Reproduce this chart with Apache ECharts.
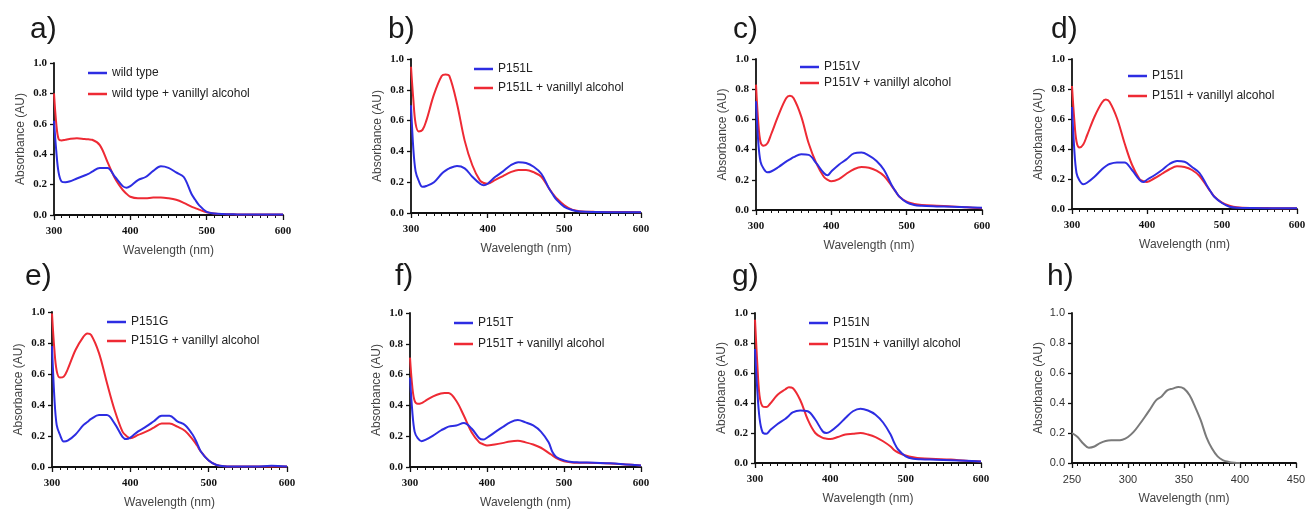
<!DOCTYPE html>
<html lang="en">
<head>
  <meta charset="UTF-8">
  <title>Absorbance spectra</title>
  <script src="https://cdn.jsdelivr.net/npm/echarts@6/dist/echarts.min.js"></script>
</head>
<body style="margin:0;background:#fff;">
<div id="chart" style="width:1309px;height:510px;"></div>

<script>
  // wavelengths (nm) sampled for panels a-g
  let wl = [300, 303, 306, 310, 315, 320, 330, 340, 345, 350, 360, 370, 380, 390, 395, 400, 410, 420, 430, 440, 450, 460, 470, 480, 485, 490, 500, 510, 520, 540, 560, 580, 600];

  // panel names / legend labels
  let panelLetters = ['a)', 'b)', 'c)', 'd)', 'e)', 'f)', 'g)', 'h)'];
  let enzymeNames = ['wild type', 'P151L', 'P151V', 'P151I', 'P151G', 'P151T', 'P151N'];
  let withAlcohol = ' + vanillyl alcohol';

  // absorbance without substrate (blue)
  let wtBlue = [0.62, 0.42, 0.28, 0.22, 0.215, 0.22, 0.24, 0.26, 0.27, 0.285, 0.31, 0.31, 0.25, 0.19, 0.18, 0.19, 0.23, 0.25, 0.29, 0.32, 0.31, 0.28, 0.25, 0.14, 0.10, 0.065, 0.02, 0.01, 0.006, 0.004, 0.003, 0.003, 0.003];
  let lBlue = [0.70, 0.42, 0.27, 0.21, 0.17, 0.175, 0.20, 0.255, 0.275, 0.29, 0.305, 0.29, 0.235, 0.19, 0.18, 0.19, 0.235, 0.27, 0.31, 0.33, 0.325, 0.30, 0.255, 0.16, 0.12, 0.085, 0.04, 0.02, 0.01, 0.006, 0.005, 0.005, 0.005];
  let vBlue = [0.72, 0.45, 0.32, 0.275, 0.25, 0.255, 0.285, 0.32, 0.335, 0.35, 0.37, 0.365, 0.31, 0.245, 0.23, 0.255, 0.30, 0.335, 0.375, 0.38, 0.36, 0.325, 0.265, 0.165, 0.125, 0.09, 0.05, 0.033, 0.028, 0.024, 0.021, 0.018, 0.015];
  let iBlue = [0.68, 0.40, 0.24, 0.19, 0.165, 0.175, 0.215, 0.265, 0.285, 0.30, 0.31, 0.31, 0.26, 0.195, 0.18, 0.195, 0.225, 0.26, 0.30, 0.32, 0.315, 0.28, 0.24, 0.155, 0.115, 0.08, 0.04, 0.015, 0.008, 0.006, 0.005, 0.005, 0.005];
  let gBlue = [0.78, 0.45, 0.27, 0.21, 0.165, 0.17, 0.21, 0.27, 0.29, 0.31, 0.335, 0.335, 0.28, 0.195, 0.18, 0.19, 0.23, 0.26, 0.295, 0.33, 0.33, 0.295, 0.27, 0.205, 0.155, 0.10, 0.042, 0.013, 0.005, 0.003, 0.003, 0.008, 0.003];
  let tBlue = [0.58, 0.36, 0.23, 0.187, 0.168, 0.176, 0.204, 0.237, 0.25, 0.262, 0.27, 0.285, 0.25, 0.187, 0.178, 0.19, 0.225, 0.258, 0.29, 0.305, 0.29, 0.27, 0.23, 0.16, 0.097, 0.065, 0.043, 0.032, 0.03, 0.027, 0.024, 0.017, 0.01];
  let nBlue = [0.76, 0.49, 0.30, 0.205, 0.195, 0.218, 0.26, 0.293, 0.315, 0.338, 0.35, 0.345, 0.29, 0.21, 0.20, 0.21, 0.25, 0.30, 0.345, 0.362, 0.35, 0.322, 0.27, 0.19, 0.133, 0.09, 0.044, 0.028, 0.025, 0.022, 0.019, 0.015, 0.01];

  // absorbance with vanillyl alcohol (red)
  let wtRed = [0.80, 0.60, 0.50, 0.49, 0.495, 0.50, 0.505, 0.50, 0.498, 0.495, 0.46, 0.35, 0.24, 0.165, 0.14, 0.12, 0.11, 0.11, 0.115, 0.115, 0.11, 0.10, 0.08, 0.055, 0.045, 0.035, 0.018, 0.01, 0.006, 0.004, 0.003, 0.003, 0.003];
  let lRed = [0.95, 0.74, 0.58, 0.53, 0.54, 0.60, 0.77, 0.89, 0.90, 0.89, 0.71, 0.47, 0.31, 0.21, 0.195, 0.19, 0.215, 0.24, 0.265, 0.28, 0.28, 0.265, 0.235, 0.16, 0.125, 0.095, 0.05, 0.022, 0.012, 0.007, 0.006, 0.006, 0.005];
  let vRed = [0.83, 0.58, 0.45, 0.425, 0.44, 0.50, 0.63, 0.74, 0.757, 0.74, 0.62, 0.44, 0.31, 0.22, 0.20, 0.19, 0.205, 0.24, 0.27, 0.285, 0.28, 0.26, 0.225, 0.16, 0.125, 0.09, 0.055, 0.04, 0.033, 0.028, 0.024, 0.018, 0.012];
  let iRed = [0.82, 0.60, 0.45, 0.41, 0.43, 0.49, 0.615, 0.71, 0.73, 0.715, 0.605, 0.44, 0.295, 0.20, 0.185, 0.18, 0.205, 0.235, 0.265, 0.285, 0.28, 0.26, 0.22, 0.15, 0.115, 0.082, 0.042, 0.022, 0.012, 0.007, 0.006, 0.005, 0.005];
  let gRed = [0.99, 0.76, 0.62, 0.577, 0.583, 0.63, 0.755, 0.84, 0.862, 0.852, 0.735, 0.545, 0.366, 0.228, 0.20, 0.186, 0.207, 0.228, 0.254, 0.28, 0.28, 0.26, 0.232, 0.175, 0.14, 0.10, 0.042, 0.013, 0.005, 0.003, 0.003, 0.003, 0.003];
  let tRed = [0.71, 0.52, 0.43, 0.41, 0.415, 0.43, 0.458, 0.477, 0.48, 0.48, 0.43, 0.333, 0.226, 0.16, 0.148, 0.14, 0.146, 0.155, 0.166, 0.17, 0.16, 0.146, 0.125, 0.092, 0.075, 0.058, 0.037, 0.03, 0.028, 0.026, 0.023, 0.017, 0.01];
  let nRed = [0.955, 0.667, 0.45, 0.378, 0.373, 0.395, 0.455, 0.49, 0.505, 0.50, 0.42, 0.29, 0.20, 0.167, 0.162, 0.16, 0.173, 0.19, 0.195, 0.20, 0.19, 0.173, 0.145, 0.11, 0.085, 0.07, 0.05, 0.038, 0.031, 0.027, 0.023, 0.015, 0.01];

  // panel h: vanillyl alcohol alone
  let wlH = [250, 255, 260, 265, 270, 275, 280, 285, 290, 295, 300, 305, 310, 315, 320, 325, 330, 335, 340, 345, 350, 355, 360, 365, 370, 375, 380, 385, 390, 395, 400];
  let alcohol = [0.20, 0.173, 0.13, 0.102, 0.11, 0.133, 0.147, 0.151, 0.151, 0.155, 0.173, 0.207, 0.255, 0.307, 0.362, 0.418, 0.444, 0.484, 0.496, 0.507, 0.496, 0.451, 0.373, 0.284, 0.173, 0.096, 0.044, 0.018, 0.007, 0.002, 0];

  let blueSets = [wtBlue, lBlue, vBlue, iBlue, gBlue, tBlue, nBlue];
  let redSets = [wtRed, lRed, vRed, iRed, gRed, tRed, nRed];

  // layout of each panel: plot box [left, top, width, height], legend [left, top, gap], letter [x, top]
  let boxes = [
    [54, 63, 229, 152], [411, 59, 230, 154], [756, 59, 226, 151], [1072, 59, 225, 150],
    [52, 312, 235, 157], [410, 313, 231, 155], [755, 313, 226, 150], [1072, 313, 224, 150]
  ];
  let legendPos = [
    [88, 67, 9], [474, 63, 7], [800, 61, 4], [1128, 70, 8],
    [107, 316, 7], [454, 317, 9], [809, 317, 9]
  ];
  let letterPos = [[30, 15], [388, 15], [733, 15], [1051, 15], [25, 262], [395, 262], [732, 262], [1047, 262]];

  const BLUE = '#2d2de2';
  const RED = '#ee2a34';

  function pairs(xs, ys) {
    return xs.map(function (x, i) { return [x, ys[i]]; });
  }

  let grids = [], xAxes = [], yAxes = [], series = [], legends = [], graphics = [];

  boxes.forEach(function (b, k) {
    let isH = k === 7;
    let tickFont = isH
      ? { fontFamily: 'Liberation Sans', fontSize: 11, color: '#333' }
      : { fontFamily: 'Liberation Serif', fontWeight: 'bold', fontSize: 11, color: '#111' };
    grids.push({ left: b[0], top: b[1], width: b[2], height: b[3] });
    xAxes.push({
      type: 'value', gridIndex: k,
      min: isH ? 250 : 300, max: isH ? 450 : 600, interval: isH ? 50 : 100,
      name: 'Wavelength (nm)', nameLocation: 'middle', nameGap: 30,
      nameTextStyle: { fontFamily: 'Liberation Sans', fontSize: 12, color: '#444' },
      axisLine: { show: true, onZero: false, lineStyle: { color: '#111', width: 1.8 } },
      axisTick: { show: true, length: 5, lineStyle: { color: '#111', width: 1.3 } },
      minorTick: { show: true, splitNumber: 10, length: 3, lineStyle: { color: '#111', width: 1 } },
      splitLine: { show: false },
      axisLabel: Object.assign({ margin: 11 }, tickFont)
    });
    yAxes.push({
      type: 'value', gridIndex: k, min: 0, max: 1, interval: 0.2,
      name: 'Absorbance (AU)', nameLocation: 'middle', nameGap: 27,
      nameTextStyle: { fontFamily: 'Liberation Sans', fontSize: 12, color: '#444' },
      axisLine: { show: true, lineStyle: { color: '#111', width: 1.8 } },
      axisTick: { show: true, length: 4, lineStyle: { color: '#111', width: 1.3 } },
      splitLine: { show: false },
      axisLabel: Object.assign({ margin: 7, formatter: function (v) { return v.toFixed(1); } }, tickFont)
    });
    graphics.push({
      type: 'text', left: letterPos[k][0], top: letterPos[k][1],
      style: { text: panelLetters[k], font: '30px "Liberation Sans"', fill: '#1a1a1a' }
    });
  });

  enzymeNames.forEach(function (nm, k) {
    let redName = nm + withAlcohol;
    series.push({
      name: redName, type: 'line', xAxisIndex: k, yAxisIndex: k,
      data: pairs(wl, redSets[k]), showSymbol: false, smooth: 0.35,
      lineStyle: { color: RED, width: 2 }, itemStyle: { color: RED }
    });
    series.push({
      name: nm, type: 'line', xAxisIndex: k, yAxisIndex: k,
      data: pairs(wl, blueSets[k]), showSymbol: false, smooth: 0.35,
      lineStyle: { color: BLUE, width: 2 }, itemStyle: { color: BLUE }
    });
    legends.push({
      data: [nm, redName], orient: 'vertical', left: legendPos[k][0], top: legendPos[k][1],
      itemGap: legendPos[k][2], padding: 0, icon: 'rect', itemWidth: 19, itemHeight: 2.5,
      selectedMode: false,
      textStyle: { fontFamily: 'Liberation Sans', fontSize: 12, color: '#222' }
    });
  });

  series.push({
    name: 'vanillyl alcohol', type: 'line', xAxisIndex: 7, yAxisIndex: 7,
    data: pairs(wlH, alcohol), showSymbol: false, smooth: 0.35,
    lineStyle: { color: '#7a7a7a', width: 2 }
  });

  let chart = echarts.init(document.getElementById('chart'));
  chart.setOption({
    animation: false,
    grid: grids,
    xAxis: xAxes,
    yAxis: yAxes,
    legend: legends,
    graphic: graphics,
    series: series
  });
</script>
</body>
</html>
